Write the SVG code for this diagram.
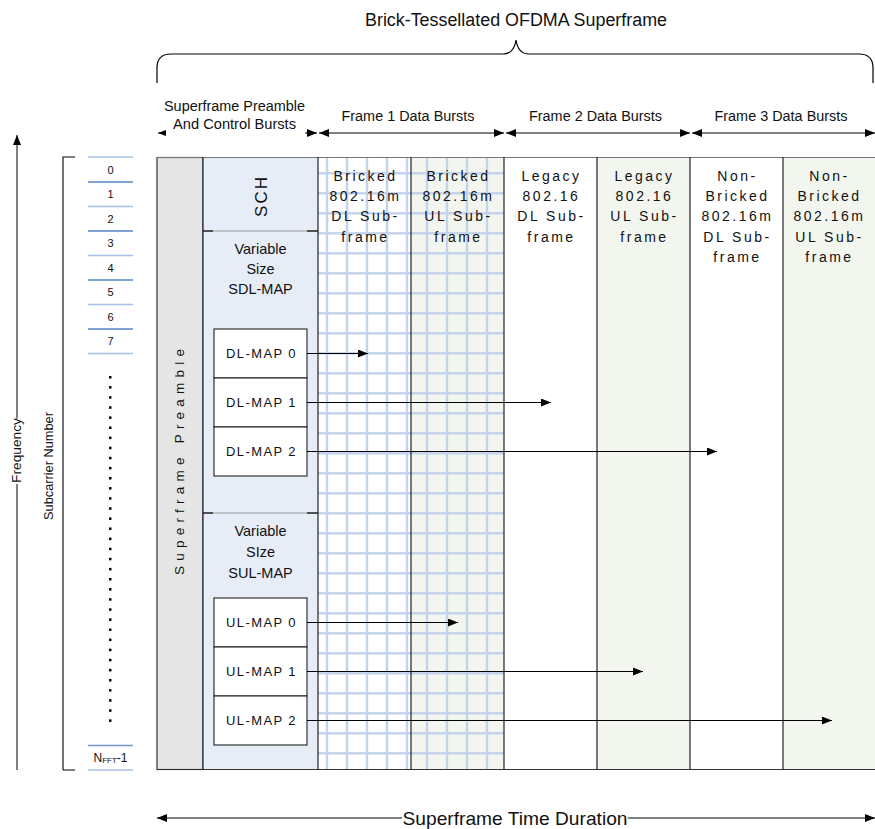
<svg xmlns="http://www.w3.org/2000/svg" width="875" height="829" viewBox="0 0 875 829">
  <defs>
    <marker id="ah" viewBox="0 0 10 8" refX="10" refY="4" markerWidth="10" markerHeight="8" markerUnits="userSpaceOnUse" orient="auto-start-reverse">
      <path d="M0,0 L10,4 L0,8 z" fill="#000"/>
    </marker>
    <marker id="ahs" viewBox="0 0 8 6" refX="8" refY="3" markerWidth="8" markerHeight="6" markerUnits="userSpaceOnUse" orient="auto-start-reverse">
      <path d="M0,0 L8,3 L0,6 z" fill="#000"/>
    </marker>
    <pattern id="brick" x="0" y="0" width="20" height="20" patternUnits="userSpaceOnUse">
      <line x1="7" y1="0" x2="7" y2="20" stroke="#c2d3eb" stroke-width="2.4"/>
      <line x1="0" y1="13.3" x2="20" y2="13.3" stroke="#c2d3eb" stroke-width="2.4"/>
    </pattern>
  </defs>
  <style>
    text { font-family: "Liberation Sans", Arial, sans-serif; fill: #111; }
    .sub { font-size: 14px; letter-spacing: 2.5px; text-anchor: middle; }
    .ctl { font-size: 14.5px; text-anchor: middle; }
    .map { font-size: 13px; letter-spacing: 1.4px; text-anchor: middle; }
    .num { font-size: 11px; text-anchor: middle; }
    .hdr { font-size: 14px; text-anchor: middle; }
    .col { stroke: #222; stroke-width: 1.2; }
    .box { fill: #fff; stroke: #222; stroke-width: 1.1; }
    .arr { stroke: #000; stroke-width: 1; fill: none; }
    .lt { stroke: #a8c0e2; stroke-width: 1.4; }
    .dk { stroke: #5585c4; stroke-width: 1.4; }
  </style>

  <rect width="875" height="829" fill="#fff"/>

  <!-- title and brace -->
  <g id="title">
    <text x="516" y="26" font-size="18" text-anchor="middle" textLength="302" lengthAdjust="spacingAndGlyphs">Brick-Tessellated OFDMA Superframe</text>
    <path d="M157,83 V68 Q157,54 171,54 H503 Q514,54 516,40 Q518,54 529,54 H859 Q873,54 873,68 V83" fill="none" stroke="#000" stroke-width="1.2"/>
  </g>

  <!-- header ranges -->
  <g id="header">
    <text class="hdr" x="234.5" y="110.5" textLength="141" lengthAdjust="spacingAndGlyphs">Superframe Preamble</text>
    <text class="hdr" x="234.5" y="129" textLength="123" lengthAdjust="spacingAndGlyphs">And Control Bursts</text>
    <text class="hdr" x="408" y="120.5" textLength="133" lengthAdjust="spacingAndGlyphs">Frame 1 Data Bursts</text>
    <text class="hdr" x="595.5" y="120.5" textLength="133" lengthAdjust="spacingAndGlyphs">Frame 2 Data Bursts</text>
    <text class="hdr" x="781" y="120.5" textLength="133" lengthAdjust="spacingAndGlyphs">Frame 3 Data Bursts</text>
  </g>

  <!-- main superframe area -->
  <g id="preamble">
    <rect x="157" y="157.5" width="46" height="612" fill="#e5e5e5" stroke="#333" stroke-width="1.2"/>
    <text transform="translate(184,462) rotate(-90)" font-size="13.5" text-anchor="middle" textLength="226">Superframe Preamble</text>
  </g>

  <g id="control">
    <rect x="203" y="157.5" width="115" height="612" fill="#e7edf7"/>
    <line x1="203" y1="231" x2="318" y2="231" stroke="#999" stroke-width="1"/>
    <line x1="203" y1="231" x2="213" y2="231" stroke="#222" stroke-width="1.4"/>
    <line x1="307" y1="231" x2="318" y2="231" stroke="#222" stroke-width="1.4"/>
    <line x1="203" y1="513" x2="318" y2="513" stroke="#999" stroke-width="1"/>
    <line x1="203" y1="513" x2="213" y2="513" stroke="#222" stroke-width="1.4"/>
    <line x1="307" y1="513" x2="318" y2="513" stroke="#222" stroke-width="1.4"/>
    <text transform="translate(266.5,197) rotate(-90)" font-size="17" text-anchor="middle" textLength="40">SCH</text>
    <text class="ctl" x="260.5" y="254">Variable</text>
    <text class="ctl" x="260.5" y="274">Size</text>
    <text class="ctl" x="260.5" y="293.5">SDL-MAP</text>
    <text class="ctl" x="260.5" y="535.5">Variable</text>
    <text class="ctl" x="260.5" y="556.5">SIze</text>
    <text class="ctl" x="260.5" y="578">SUL-MAP</text>
  </g>

  <g id="dl-maps">
    <rect class="box" x="214" y="329" width="93" height="49"/>
    <rect class="box" x="214" y="378" width="93" height="49"/>
    <rect class="box" x="214" y="427" width="93" height="49"/>
    <text class="map" x="261.5" y="358">DL-MAP 0</text>
    <text class="map" x="261.5" y="407">DL-MAP 1</text>
    <text class="map" x="261.5" y="456">DL-MAP 2</text>
  </g>

  <g id="ul-maps">
    <rect class="box" x="214" y="598" width="93" height="49"/>
    <rect class="box" x="214" y="647" width="93" height="49"/>
    <rect class="box" x="214" y="696" width="93" height="49"/>
    <text class="map" x="261.5" y="627">UL-MAP 0</text>
    <text class="map" x="261.5" y="676">UL-MAP 1</text>
    <text class="map" x="261.5" y="725">UL-MAP 2</text>
  </g>

  <g id="frame1">
    <rect x="318" y="157.5" width="93" height="612" fill="#fff"/>
    <rect x="411" y="157.5" width="93" height="612" fill="#f3f6ef"/>
    <rect x="318" y="158" width="186" height="611" fill="url(#brick)"/>
    <text class="sub" x="365.5" y="180.5">Bricked</text>
    <text class="sub" x="365.5" y="201">802.16m</text>
    <text class="sub" x="365.5" y="221">DL Sub-</text>
    <text class="sub" x="365.5" y="241.5">frame</text>
    <text class="sub" x="458.5" y="180.5">Bricked</text>
    <text class="sub" x="458.5" y="201">802.16m</text>
    <text class="sub" x="458.5" y="221">UL Sub-</text>
    <text class="sub" x="458.5" y="241.5">frame</text>
  </g>

  <g id="frame2">
    <rect x="504" y="157.5" width="93" height="612" fill="#fff"/>
    <rect x="597" y="157.5" width="93" height="612" fill="#f3f6ef"/>
    <text class="sub" x="551.5" y="180.5">Legacy</text>
    <text class="sub" x="551.5" y="201">802.16</text>
    <text class="sub" x="551.5" y="221">DL Sub-</text>
    <text class="sub" x="551.5" y="241.5">frame</text>
    <text class="sub" x="644.5" y="180.5">Legacy</text>
    <text class="sub" x="644.5" y="201">802.16</text>
    <text class="sub" x="644.5" y="221">UL Sub-</text>
    <text class="sub" x="644.5" y="241.5">frame</text>
  </g>

  <g id="frame3">
    <rect x="690" y="157.5" width="93" height="612" fill="#fff"/>
    <rect x="783" y="157.5" width="92" height="612" fill="#f3f6ef"/>
    <text class="sub" x="737.5" y="180.5">Non-</text>
    <text class="sub" x="737.5" y="201">Bricked</text>
    <text class="sub" x="737.5" y="221">802.16m</text>
    <text class="sub" x="737.5" y="241.5">DL Sub-</text>
    <text class="sub" x="737.5" y="262">frame</text>
    <text class="sub" x="829.5" y="180.5">Non-</text>
    <text class="sub" x="829.5" y="201">Bricked</text>
    <text class="sub" x="829.5" y="221">802.16m</text>
    <text class="sub" x="829.5" y="241.5">UL Sub-</text>
    <text class="sub" x="829.5" y="262">frame</text>
  </g>

  <!-- column borders -->
  <g id="borders">
    <line x1="157" y1="157.5" x2="875" y2="157.5" stroke="#777" stroke-width="1"/>
    <line x1="157" y1="769.5" x2="875" y2="769.5" stroke="#333" stroke-width="1.2"/>
    <line class="col" x1="203" y1="157" x2="203" y2="770"/>
    <line class="col" x1="318" y1="157" x2="318" y2="770"/>
    <line class="col" x1="411" y1="157" x2="411" y2="770"/>
    <line class="col" x1="504" y1="157" x2="504" y2="770"/>
    <line class="col" x1="597" y1="157" x2="597" y2="770"/>
    <line class="col" x1="690" y1="157" x2="690" y2="770"/>
    <line class="col" x1="783" y1="157" x2="783" y2="770"/>
  </g>

  <!-- subcarrier index -->
  <g id="subcarriers">
    <line class="lt" x1="88" y1="157" x2="133" y2="157"/>
    <line class="dk" x1="88" y1="182" x2="133" y2="182"/>
    <line class="lt" x1="88" y1="206.5" x2="133" y2="206.5"/>
    <line class="dk" x1="88" y1="231" x2="133" y2="231"/>
    <line class="lt" x1="88" y1="255.5" x2="133" y2="255.5"/>
    <line class="dk" x1="88" y1="280" x2="133" y2="280"/>
    <line class="lt" x1="88" y1="304.5" x2="133" y2="304.5"/>
    <line class="dk" x1="88" y1="329" x2="133" y2="329"/>
    <line class="lt" x1="88" y1="353.5" x2="133" y2="353.5"/>
    <text class="num" x="110.5" y="173.5">0</text>
    <text class="num" x="110.5" y="198">1</text>
    <text class="num" x="110.5" y="222.5">2</text>
    <text class="num" x="110.5" y="247">3</text>
    <text class="num" x="110.5" y="271.5">4</text>
    <text class="num" x="110.5" y="296">5</text>
    <text class="num" x="110.5" y="320.5">6</text>
    <text class="num" x="110.5" y="345">7</text>
    <g fill="#000">
      <rect x="109" y="376" width="2.5" height="2.5"/>
      <rect x="109" y="386.1" width="2.5" height="2.5"/>
      <rect x="109" y="396.2" width="2.5" height="2.5"/>
      <rect x="109" y="406.3" width="2.5" height="2.5"/>
      <rect x="109" y="416.4" width="2.5" height="2.5"/>
      <rect x="109" y="426.5" width="2.5" height="2.5"/>
      <rect x="109" y="436.6" width="2.5" height="2.5"/>
      <rect x="109" y="446.7" width="2.5" height="2.5"/>
      <rect x="109" y="456.8" width="2.5" height="2.5"/>
      <rect x="109" y="466.9" width="2.5" height="2.5"/>
      <rect x="109" y="477" width="2.5" height="2.5"/>
      <rect x="109" y="487.1" width="2.5" height="2.5"/>
      <rect x="109" y="497.2" width="2.5" height="2.5"/>
      <rect x="109" y="507.3" width="2.5" height="2.5"/>
      <rect x="109" y="517.4" width="2.5" height="2.5"/>
      <rect x="109" y="527.5" width="2.5" height="2.5"/>
      <rect x="109" y="537.6" width="2.5" height="2.5"/>
      <rect x="109" y="547.7" width="2.5" height="2.5"/>
      <rect x="109" y="557.8" width="2.5" height="2.5"/>
      <rect x="109" y="567.9" width="2.5" height="2.5"/>
      <rect x="109" y="578" width="2.5" height="2.5"/>
      <rect x="109" y="588.1" width="2.5" height="2.5"/>
      <rect x="109" y="598.2" width="2.5" height="2.5"/>
      <rect x="109" y="608.3" width="2.5" height="2.5"/>
      <rect x="109" y="618.4" width="2.5" height="2.5"/>
      <rect x="109" y="628.5" width="2.5" height="2.5"/>
      <rect x="109" y="638.6" width="2.5" height="2.5"/>
      <rect x="109" y="648.7" width="2.5" height="2.5"/>
      <rect x="109" y="658.8" width="2.5" height="2.5"/>
      <rect x="109" y="668.9" width="2.5" height="2.5"/>
      <rect x="109" y="679" width="2.5" height="2.5"/>
      <rect x="109" y="689.1" width="2.5" height="2.5"/>
      <rect x="109" y="699.2" width="2.5" height="2.5"/>
      <rect x="109" y="709.3" width="2.5" height="2.5"/>
      <rect x="109" y="719.4" width="2.5" height="2.5"/>
    </g>
    <line x1="88" y1="745.5" x2="133" y2="745.5" stroke="#6f98cf" stroke-width="1.4"/>
    <line class="lt" x1="88" y1="770" x2="133" y2="770"/>
    <text x="110.5" y="762" font-size="12" text-anchor="middle">N<tspan font-size="8" dy="1">FFT</tspan><tspan dy="-1">-1</tspan></text>
  </g>

  <!-- axis labels -->
  <g id="axes">
    <path d="M63,770 H75 M63,770 V157 H75" fill="none" stroke="#000" stroke-width="1.1"/>
    <text transform="translate(53,466) rotate(-90)" font-size="12.8" text-anchor="middle" textLength="108" lengthAdjust="spacingAndGlyphs">Subcarrier Number</text>
  </g>

  <!-- connectors -->
  <g id="connectors">
    <!-- frequency axis -->
    <line class="arr" x1="17" y1="770" x2="17" y2="135" marker-end="url(#ah)" stroke="#555" stroke-width="1.3"/>
    <rect x="11" y="417" width="13" height="67" fill="#fff"/>
    <text transform="translate(21,450.5) rotate(-90)" font-size="12.5" text-anchor="middle" textLength="65" lengthAdjust="spacingAndGlyphs">Frequency</text>
    <line x1="17" y1="417" x2="17" y2="419" stroke="#555" stroke-width="1.3"/>

    <!-- header ranges -->
    <line class="arr" x1="165" y1="133" x2="158" y2="133" marker-end="url(#ahs)"/>
    <line class="arr" x1="305" y1="133" x2="317" y2="133" marker-end="url(#ah)"/>
    <line class="arr" x1="319" y1="133" x2="504" y2="133" marker-start="url(#ah)" marker-end="url(#ah)"/>
    <line class="arr" x1="506" y1="133" x2="690" y2="133" marker-start="url(#ah)" marker-end="url(#ah)"/>
    <line class="arr" x1="692" y1="133" x2="875" y2="133" marker-start="url(#ah)" marker-end="url(#ah)"/>

    <!-- map pointers -->
    <line class="arr" x1="307" y1="353.5" x2="368" y2="353.5" marker-end="url(#ah)"/>
    <line class="arr" x1="307" y1="402.5" x2="551" y2="402.5" marker-end="url(#ah)"/>
    <line class="arr" x1="307" y1="451.5" x2="717" y2="451.5" marker-end="url(#ah)"/>
    <line class="arr" x1="307" y1="622.5" x2="458" y2="622.5" marker-end="url(#ah)"/>
    <line class="arr" x1="307" y1="671.5" x2="643" y2="671.5" marker-end="url(#ah)"/>
    <line class="arr" x1="307" y1="720.5" x2="832" y2="720.5" marker-end="url(#ah)"/>

    <!-- time duration -->
    <line class="arr" x1="157" y1="818" x2="875" y2="818" stroke="#444" stroke-width="1.3" marker-start="url(#ah)" marker-end="url(#ah)"/>
    <rect x="402" y="806" width="226" height="20" fill="#fff"/>
    <text x="515" y="824.5" font-size="18.5" text-anchor="middle" textLength="225" lengthAdjust="spacingAndGlyphs">Superframe Time Duration</text>
  </g>
</svg>
